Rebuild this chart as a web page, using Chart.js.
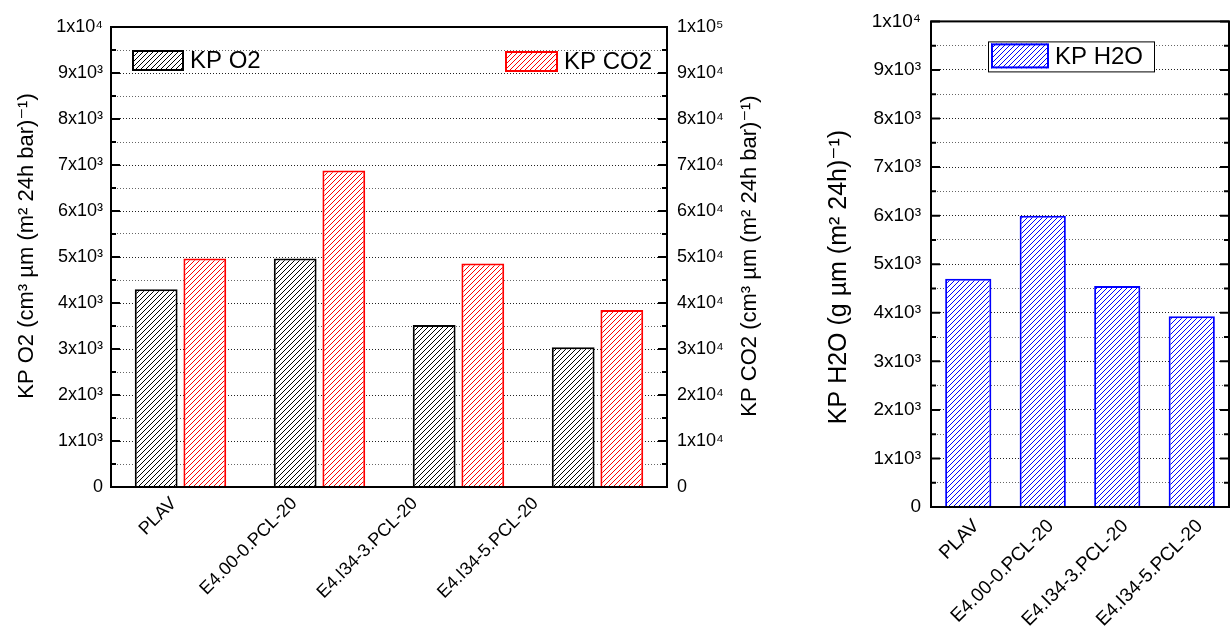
<!DOCTYPE html>
<html>
<head>
<meta charset="utf-8">
<script src="https://cdn.jsdelivr.net/npm/chart.js@4.4.0/dist/chart.umd.min.js"></script>
<style>
  body { margin: 0; background: #fff; }
  #wrap { position: relative; width: 1231px; height: 635px; }
  .box { position: absolute; top: 0; height: 635px; }
  #left-box { left: 0; width: 790px; }
  #right-box { left: 790px; width: 441px; }
</style>
</head>
<body>
<div id="wrap">
  <div class="box" id="left-box"><canvas id="gas-chart"></canvas></div>
  <div class="box" id="right-box"><canvas id="water-chart"></canvas></div>
</div>
<script>
// Data
const samples = ['PLAV', 'E4.00-0.PCL-20', 'E4.I34-3.PCL-20', 'E4.I34-5.PCL-20'];
const kpO2 = [4300, 4970, 3520, 3040];
const kpCO2 = [49700, 68800, 48600, 38500];
const kpH2O = [4700, 6000, 4550, 3930];

// Tick labels (index = value / major step)
const o2Ticks = ['0', '1x10³', '2x10³', '3x10³', '4x10³', '5x10³', '6x10³', '7x10³', '8x10³', '9x10³', '1x10⁴'];
const co2Ticks = ['0', '1x10⁴', '2x10⁴', '3x10⁴', '4x10⁴', '5x10⁴', '6x10⁴', '7x10⁴', '8x10⁴', '9x10⁴', '1x10⁵'];
const h2oTicks = ['0', '1x10³', '2x10³', '3x10³', '4x10³', '5x10³', '6x10³', '7x10³', '8x10³', '9x10³', '1x10⁴'];

const o2Title = 'KP O2 (cm³ µm (m² 24h bar)⁻¹)';
const co2Title = 'KP CO2 (cm³ µm (m² 24h bar)⁻¹)';
const h2oTitle = 'KP H2O (g µm (m² 24h)⁻¹)';

const FONT = "'Liberation Sans', Arial, 'DejaVu Sans', sans-serif";
Chart.defaults.font.family = FONT;
Chart.defaults.color = '#000';

// hatch fill "///"
function makeHatch(color, size) {
    const c = document.createElement('canvas');
    c.width = c.height = size;
    const g = c.getContext('2d');
    g.fillStyle = '#fff';
    g.fillRect(0, 0, size, size);
    g.strokeStyle = color;
    g.lineWidth = 1;
    g.beginPath();
    g.moveTo(0, size); g.lineTo(size, 0);
    g.moveTo(-1, 1); g.lineTo(1, -1);
    g.moveTo(size - 1, size + 1); g.lineTo(size + 1, size - 1);
    g.stroke();
    return g.createPattern(c, 'repeat');
}

const hatchBlack = makeHatch('#000', 5);
const hatchRed = makeHatch('#ff0000', 5);
const hatchBlue = makeHatch('#0000ff', 5);

// frame round the plot + inward ticks
const framePlugin = {
    id: 'frame',
    afterDatasetsDraw(chart) {
        const { ctx, chartArea: a } = chart;
        ctx.save();
        ctx.strokeStyle = '#000';
        ctx.lineWidth = 2;
        ctx.strokeRect(a.left, a.top, a.right - a.left, a.bottom - a.top);
        const ys = chart.scales.y;
        const major = ys.options.ticks.stepSize * 2;
        ys.ticks.forEach(t => {
            const py = ys.getPixelForValue(t.value);
            const len = t.value % major === 0 ? 9 : 5;
            ctx.beginPath();
            ctx.moveTo(a.left, py); ctx.lineTo(a.left + len, py);
            ctx.moveTo(a.right, py); ctx.lineTo(a.right - len, py);
            ctx.stroke();
        });
        ctx.restore();
    }
};

// legend items placed freely inside the plot
const boxLegendPlugin = {
    id: 'boxLegend',
    afterDraw(chart, args, opts) {
        const { ctx, chartArea: a } = chart;
        ctx.save();
        if (opts.frame) {
            ctx.strokeStyle = '#000';
            ctx.lineWidth = 1;
            ctx.fillStyle = '#fff';
            ctx.fillRect(a.left + opts.frame.x, a.top + opts.frame.y, opts.frame.w, opts.frame.h);
            ctx.strokeRect(a.left + opts.frame.x + 0.5, a.top + opts.frame.y + 0.5, opts.frame.w, opts.frame.h);
        }
        opts.items.forEach(it => {
            const ds = chart.data.datasets[it.dataset];
            const x = a.left + it.x, y = a.top + it.y;
            ctx.fillStyle = ds.backgroundColor;
            ctx.fillRect(x, y, it.w, it.h);
            ctx.strokeStyle = ds.borderColor;
            ctx.lineWidth = 2;
            ctx.strokeRect(x + 1, y + 1, it.w - 2, it.h - 2);
            ctx.fillStyle = '#000';
            ctx.font = '24px ' + FONT;
            ctx.textBaseline = 'middle';
            ctx.fillText(ds.label, x + it.w + 6, y + it.h / 2 + 1);
        });
        ctx.restore();
    }
};

// axis titles, all read bottom to top (Chart.js turns right-hand ones the other way)
const sideTitlePlugin = {
    id: 'sideTitle',
    afterDraw(chart, args, opts) {
        const { ctx } = chart;
        (opts.titles || []).forEach(t => {
            ctx.save();
            ctx.translate(t.x, t.y);
            ctx.rotate(-Math.PI / 2);
            ctx.font = t.size + 'px ' + FONT;
            ctx.fillStyle = '#000';
            ctx.textAlign = 'center';
            ctx.textBaseline = 'middle';
            ctx.fillText(t.text, 0, 0);
            ctx.restore();
        });
    }
};

const gridColor = (c) => (c.tick && c.tick.value % 1000 === 0) ? '#222' : '#666';

const gasChart = new Chart(document.getElementById('gas-chart'), {
    type: 'bar',
    data: {
        labels: samples,
        datasets: [
            { label: 'KP O2', data: kpO2, yAxisID: 'y', backgroundColor: hatchBlack, borderColor: '#000', borderWidth: 2 },
            { label: 'KP CO2', data: kpCO2, yAxisID: 'y1', backgroundColor: hatchRed, borderColor: '#ff0000', borderWidth: 2 }
        ]
    },
    options: {
        responsive: true,
        maintainAspectRatio: false,
        animation: false,
        layout: { padding: { top: 27, left: 0, right: 0, bottom: 0 } },
        datasets: { bar: { categoryPercentage: 0.7, barPercentage: 0.88 } },
        scales: {
            x: {
                grid: { display: false },
                border: { display: false },
                ticks: { display: false },
                afterFit: (s) => { s.height = 0; }
            },
            // sample names sit a bit tighter than the bars in the original
            xl: {
                type: 'linear',
                position: 'bottom',
                offset: false,
                min: -0.52,
                max: 4.09,
                grid: { display: false },
                border: { display: false },
                afterBuildTicks: (s) => { s.ticks = samples.map((n, i) => ({ value: i })); },
                ticks: {
                    autoSkip: false, maxRotation: 45, minRotation: 45, padding: -2,
                    font: { size: 18 },
                    callback: (v) => samples[v]
                },
                afterFit: (s) => { s.height = 148; }
            },
            y: {
                position: 'left',
                min: 0,
                max: 10000,
                ticks: {
                    stepSize: 500,
                    autoSkip: false,
                    padding: 8,
                    font: { size: 18 },
                    callback: (v) => v % 1000 === 0 ? o2Ticks[v / 1000] : ''
                },
                grid: { drawTicks: false, color: gridColor, lineWidth: 1 },
                border: { display: false, dash: [1, 2] },
                afterFit: (s) => { s.width = 111; }
            },
            y1: {
                position: 'right',
                min: 0,
                max: 100000,
                ticks: {
                    stepSize: 5000,
                    autoSkip: false,
                    padding: 10,
                    font: { size: 18 },
                    callback: (v) => v % 10000 === 0 ? co2Ticks[v / 10000] : ''
                },
                grid: { display: false, drawTicks: false },
                border: { display: false },
                afterFit: (s) => { s.width = 123; }
            }
        },
        plugins: {
            legend: { display: false },
            tooltip: { enabled: false },
            sideTitle: {
                titles: [
                    { text: o2Title, x: 27, y: 246, size: 22 },
                    { text: co2Title, x: 750, y: 256, size: 22 }
                ]
            },
            boxLegend: {
                items: [
                    { dataset: 0, x: 21, y: 23, w: 52, h: 21 },
                    { dataset: 1, x: 394, y: 24, w: 53, h: 21 }
                ]
            }
        }
    },
    plugins: [framePlugin, boxLegendPlugin, sideTitlePlugin]
});

const waterChart = new Chart(document.getElementById('water-chart'), {
    type: 'bar',
    data: {
        labels: samples,
        datasets: [
            { label: 'KP H2O', data: kpH2O, backgroundColor: hatchBlue, borderColor: '#0000ff', borderWidth: 2 }
        ]
    },
    options: {
        responsive: true,
        maintainAspectRatio: false,
        animation: false,
        layout: { padding: { top: 12, left: 0, right: 2, bottom: 0 } },
        datasets: { bar: { categoryPercentage: 0.62, barPercentage: 1 } },
        scales: {
            x: {
                grid: { display: false },
                border: { display: false },
                ticks: { autoSkip: false, maxRotation: 45, minRotation: 45, padding: 0, labelOffset: 8, font: { size: 19 } },
                afterFit: (s) => { s.height = 128; }
            },
            y: {
                position: 'left',
                min: 0,
                max: 10000,
                ticks: {
                    stepSize: 500,
                    autoSkip: false,
                    padding: 10,
                    font: { size: 19 },
                    callback: (v) => v % 1000 === 0 ? h2oTicks[v / 1000] : ''
                },
                grid: { drawTicks: false, color: gridColor, lineWidth: 1 },
                border: { display: false, dash: [1, 2] },
                afterFit: (s) => { s.width = 141; }
            }
        },
        plugins: {
            legend: { display: false },
            tooltip: { enabled: false },
            sideTitle: {
                titles: [
                    { text: h2oTitle, x: 49, y: 277, size: 25 }
                ]
            },
            boxLegend: {
                frame: { x: 57, y: 20, w: 166, h: 30 },
                items: [
                    { dataset: 0, x: 60, y: 22, w: 58, h: 25 }
                ]
            }
        }
    },
    plugins: [framePlugin, boxLegendPlugin, sideTitlePlugin]
});
</script>
</body>
</html>
